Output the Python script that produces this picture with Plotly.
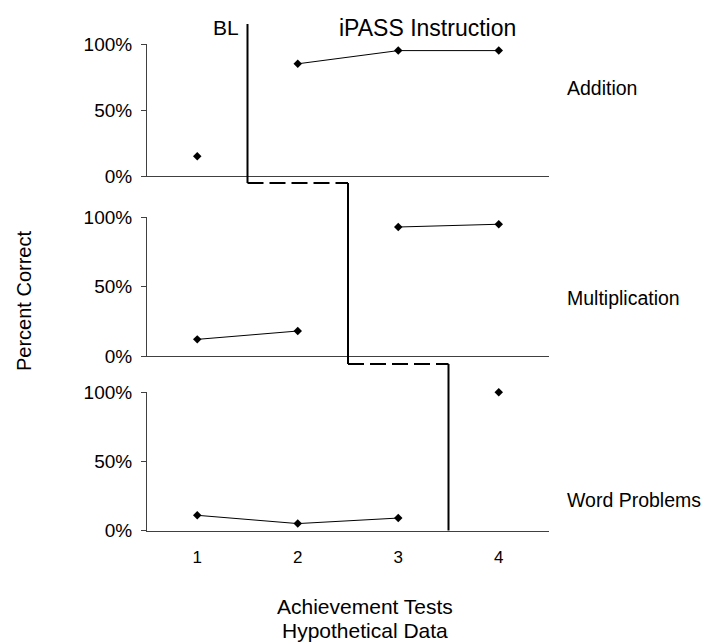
import plotly.graph_objects as go

# ---- data ----
tests = [1, 2, 3, 4]
x_tick_labels = ["1", "2", "3", "4"]
y_tick_vals = [0, 0.5, 1.0]
y_tick_labels = ["0%", "50%", "100%"]

panel_names = ["Addition", "Multiplication", "Word Problems"]

add_bl_x = [1]
add_bl_y = [0.15]
add_tx_x = [2, 3, 4]
add_tx_y = [0.85, 0.95, 0.95]

mul_bl_x = [1, 2]
mul_bl_y = [0.12, 0.18]
mul_tx_x = [3, 4]
mul_tx_y = [0.93, 0.95]

wp_bl_x = [1, 2, 3]
wp_bl_y = [0.11, 0.05, 0.09]
wp_tx_x = [4]
wp_tx_y = [1.00]

phase_changes = [1.5, 2.5, 3.5]
phase_labels = ["BL", "iPASS Instruction"]
x_title_lines = ["Achievement Tests", "Hypothetical Data"]
y_title = "Percent Correct"

# ---- layout helpers (page pixels -> paper) ----
OFF = 8            # default page body margin
W, H = 712 - OFF, 643 - OFF
L = 147 - OFF
PW = 402
R = W - L - PW


def py(p):
    return 1 - (p - OFF) / H


def px(p):
    return (p - OFF - L) / PW


FONT = "Liberation Sans, Arial, sans-serif"
AX = "#404040"

fig = go.Figure()

series = [
    (add_bl_x, add_bl_y, add_tx_x, add_tx_y, "x3", "y3"),
    (mul_bl_x, mul_bl_y, mul_tx_x, mul_tx_y, "x2", "y2"),
    (wp_bl_x, wp_bl_y, wp_tx_x, wp_tx_y, "x", "y"),
]
for bx, by, tx, ty, xa, ya in series:
    for xs, ys in ((bx, by), (tx, ty)):
        fig.add_trace(go.Scatter(
            x=xs, y=ys, mode="lines+markers", xaxis=xa, yaxis=ya,
            line=dict(color="black", width=1),
            marker=dict(symbol="diamond", size=6.5, color="black"),
            cliponaxis=False, showlegend=False, hoverinfo="skip"))

domains = {
    "yaxis": [py(530.5), py(392.3)],
    "yaxis2": [py(356), py(217.3)],
    "yaxis3": [py(176), py(44)],
}
ycommon = dict(range=[0, 1], tickvals=y_tick_vals, ticktext=y_tick_labels,
               showline=True, linecolor=AX, linewidth=1, ticks="outside",
               ticklen=5, tickcolor=AX, showgrid=False, zeroline=False,
               tickfont=dict(family=FONT, size=19, color="black"),
               ticklabelstandoff=5, fixedrange=True, automargin=False)
xcommon = dict(range=[0.5, 4.5], domain=[0, 1], showline=True, linecolor=AX,
               linewidth=1, showgrid=False, zeroline=False, ticks="",
               tickvals=tests, ticktext=x_tick_labels,
               tickfont=dict(family=FONT, size=17, color="black"),
               fixedrange=True, automargin=False)

fig.update_layout(
    width=W, height=H,
    margin=dict(l=L, r=R, t=0, b=0, pad=0),
    plot_bgcolor="white", paper_bgcolor="white",
    xaxis=dict(xcommon, anchor="y", ticklabelstandoff=11),
    xaxis2=dict(xcommon, anchor="y2", showticklabels=False),
    xaxis3=dict(xcommon, anchor="y3", showticklabels=False),
    yaxis=dict(ycommon, domain=domains["yaxis"], anchor="x"),
    yaxis2=dict(ycommon, domain=domains["yaxis2"], anchor="x2"),
    yaxis3=dict(ycommon, domain=domains["yaxis3"], anchor="x3"),
)

# phase change lines
solid = dict(color="black", width=2)
dashed = dict(color="black", width=2, dash="16px,6px")
steps = [py(24), py(183), py(364), py(530.5)]
for i, xc in enumerate(phase_changes):
    fig.add_shape(type="line", xref="x", yref="paper", x0=xc, x1=xc,
                  y0=steps[i], y1=steps[i + 1], line=solid)
    if i < len(phase_changes) - 1:
        fig.add_shape(type="line", xref="x", yref="paper", x0=xc,
                      x1=phase_changes[i + 1], y0=steps[i + 1],
                      y1=steps[i + 1], line=dashed)

ann = []
ann.append(dict(text=phase_labels[0], x=px(226), y=py(28), xanchor="center",
                font=dict(family=FONT, size=21)))
ann.append(dict(text=phase_labels[1], x=px(427), y=py(28), xanchor="center",
                font=dict(family=FONT, size=23)))
for name, yc in zip(panel_names, [88, 298, 500]):
    ann.append(dict(text=name, x=px(566), y=py(yc), xanchor="left",
                    font=dict(family=FONT, size=19.5)))
ann.append(dict(text=y_title, x=px(24), y=py(301), textangle=-90,
                xanchor="center", font=dict(family=FONT, size=20)))
for line, yc in zip(x_title_lines, [606, 630]):
    ann.append(dict(text=line, x=px(365), y=py(yc), xanchor="center",
                    font=dict(family=FONT, size=21)))
for a in ann:
    a.update(xref="paper", yref="paper", showarrow=False, yanchor="middle",
             borderpad=0)
    a["font"]["color"] = "black"
fig.update_layout(annotations=ann)

fig.write_html("out.html")
